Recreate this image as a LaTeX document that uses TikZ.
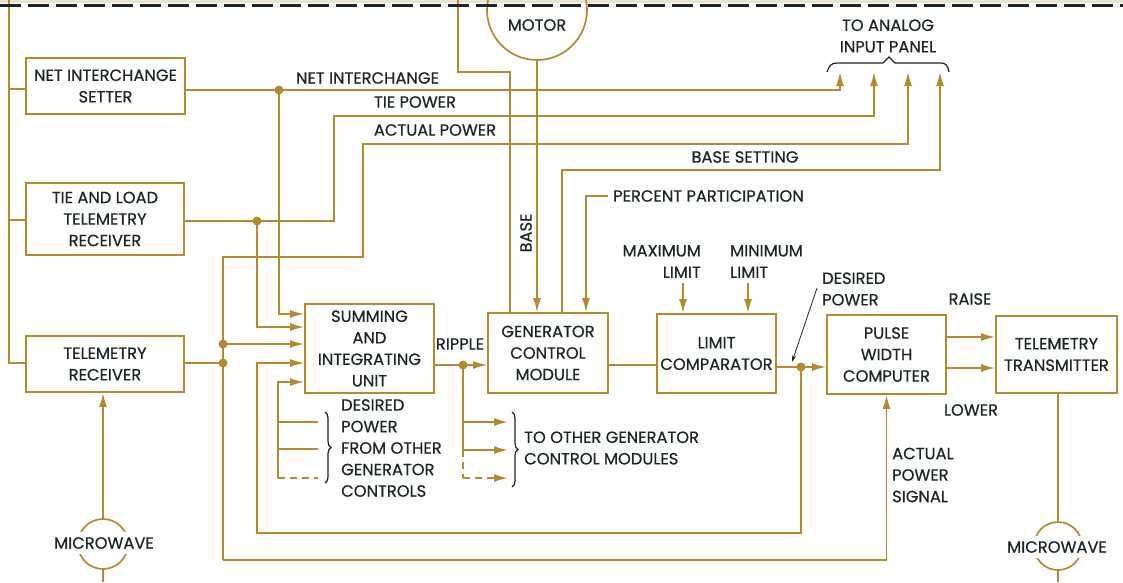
\documentclass[tikz,border=0pt]{standalone}
\usepackage{fontspec}
\newfontfamily\lblfont{Poppins}[FakeBold=0.5]
\usetikzlibrary{arrows.meta,decorations.pathreplacing}
\definecolor{gold}{RGB}{178,138,48}
\definecolor{ink}{RGB}{28,38,38}
\definecolor{band}{RGB}{233,227,212}
\newcommand{\lbf}{\lblfont\fontsize{16.3}{21.5}\selectfont}
\begin{document}
\begin{tikzpicture}[x=1pt,y=-1pt,
  box/.style={draw=gold, line width=1.7pt, fill=white, align=center, font=\lbf, text=ink, inner sep=0pt},
  lbl/.style={font=\lbf, text=ink, inner sep=0pt},
  wire/.style={draw=gold, line width=1.7pt},
  arr/.style={wire, -{Latex[length=14pt,width=8pt]}},
  dot/.style={circle, fill=gold, inner sep=0pt, minimum size=9pt},
  ring/.style={circle, draw=gold, line width=1.7pt, inner sep=0pt},
  brc/.style={draw=ink, line width=1.2pt, decorate, decoration={brace, amplitude=6pt}},
  dsh/.style={dash pattern=on 7pt off 5pt}]
\useasboundingbox (0,0) rectangle (1123,582);
\fill[white] (0,0) rectangle (1123,582);
\fill[band] (0,0) rectangle (1123,3);

% ---------- boxes ----------
\node[box, minimum width=159pt, minimum height=56pt] (nis) at (105.5,86) {NET INTERCHANGE\\SETTER};
\node[box, minimum width=158pt, minimum height=72pt] (tlr) at (105,219) {TIE AND LOAD\\TELEMETRY\\RECEIVER};
\node[box, minimum width=158pt, minimum height=56pt] (tr) at (105,364) {TELEMETRY\\RECEIVER};
\node[box, minimum width=129pt, minimum height=89pt] (siu) at (369.5,348.5) {SUMMING\\AND\\INTEGRATING\\UNIT};
\node[box, minimum width=120pt, minimum height=80pt] (gcm) at (548,353) {GENERATOR\\CONTROL\\MODULE};
\node[box, minimum width=119pt, minimum height=79pt] (lc) at (716.5,353.5) {LIMIT\\COMPARATOR};
\node[box, minimum width=119pt, minimum height=79pt] (pwc) at (886.5,354.5) {PULSE\\WIDTH\\COMPUTER};
\node[box, minimum width=121pt, minimum height=77pt] (tt) at (1056.5,354.5) {TELEMETRY\\TRANSMITTER};
\node[ring, minimum size=100pt] (motor) at (537,10) {};
\node[ring, minimum size=50pt] (mwL) at (103,544) {};
\node[ring, minimum size=48pt] (mwR) at (1058,546) {};

% ---------- coordinates ----------
\coordinate (busT) at (9,0);
\coordinate (bus1) at (9,89);
\coordinate (bus2) at (9,220);
\coordinate (bus3) at (9,363);
\coordinate (dNI) at (279,90);
\coordinate (aNI) at (840,72);
\coordinate (dTL) at (257,221);
\coordinate (tpC) at (334,116);
\coordinate (aTP) at (874,72);
\coordinate (apA) at (223,257);
\coordinate (apB) at (363,144);
\coordinate (aAP) at (908,72);
\coordinate (apBot) at (223,560);
\coordinate (dTR1) at (223,344);
\coordinate (dTR2) at (223,363);
\coordinate (in1) at (279,314);
\coordinate (in2) at (257,327);
\coordinate (in4) at (257,363);
\coordinate (in5) at (278,382);
\coordinate (dDP) at (801,367);
\coordinate (fbA) at (801,533);
\coordinate (fbB) at (257,533);
\coordinate (oc1) at (278,422);
\coordinate (oc2) at (278,449);
\coordinate (oc3) at (278,478);
\coordinate (oc1e) at (318,422);
\coordinate (oc2e) at (318,449);
\coordinate (oc3e) at (318,478);
\coordinate (dR) at (463,365);
\coordinate (rp1) at (463,422);
\coordinate (rp2) at (463,450);
\coordinate (rp3) at (463,478);
\coordinate (rp1e) at (508,422);
\coordinate (rp2e) at (508,450);
\coordinate (rp3e) at (508,478);
\coordinate (gT) at (458,0);
\coordinate (gK) at (458,72);
\coordinate (gK2) at (510,72);
\coordinate (bs1) at (562,170);
\coordinate (aBS) at (940,72);
\coordinate (pp1) at (608,196);
\coordinate (pp2) at (586,196);
\coordinate (gl) at (630,365);
\coordinate (mx) at (683,283);
\coordinate (mn) at (748,283);
\coordinate (r1) at (970,337);
\coordinate (r2) at (970,368);
\coordinate (mwLb) at (103,582);
\coordinate (mwRb) at (1058,582);
\coordinate (dpL) at (817,288);
\coordinate (dpT) at (792,362);

% ---------- wires ----------
\draw[wire] (busT) -- (bus3) -- (bus3 -| tr.west);
\draw[wire] (bus1) -- (bus1 -| nis.west);
\draw[wire] (bus2) -- (bus2 -| tlr.west);
\draw[arr] (dNI -| nis.east) -- (dNI -| aNI) -- (aNI);
\draw[arr] (dTL -| tlr.east) -- (dTL -| tpC) -- (tpC) -- (tpC -| aTP) -- (aTP);
\draw[wire] (dTR2 -| tr.east) -- (dTR2);
\draw[arr] (apBot) -- (apA) -- (apA -| apB) -- (apB) -- (apB -| aAP) -- (aAP);
\draw[arr] (apBot) -- (apBot -| pwc.south) -- (pwc.south);
\draw[arr] (dNI) -- (in1) -- (in1 -| siu.west);
\draw[arr] (dTL) -- (in2) -- (in2 -| siu.west);
\draw[arr] (dTR1) -- (dTR1 -| siu.west);
\draw[arr] (dDP) -- (fbA) -- (fbB) -- (in4) -- (in4 -| siu.west);
\draw[arr] (oc3) -- (in5) -- (in5 -| siu.west);
\draw[wire] (oc1) -- (oc1e);
\draw[wire] (oc2) -- (oc2e);
\draw[wire, dsh] (oc3) -- (oc3e);
\draw[arr] (dR -| siu.east) -- (dR -| gcm.west);
\draw[wire] (dR) -- (rp2);
\draw[wire, dsh] (rp2) -- (rp3);
\draw[arr] (rp1) -- (rp1e);
\draw[arr] (rp2) -- (rp2e);
\draw[arr, dsh] (rp3) -- (rp3e);
\draw[wire] (gT) -- (gK) -- (gK2) -- (gK2 |- gcm.north);
\draw[arr] (motor.south) -- (motor.south |- gcm.north);
\draw[arr] (bs1 |- gcm.north) -- (bs1) -- (bs1 -| aBS) -- (aBS);
\draw[arr] (pp1) -- (pp2) -- (pp2 |- gcm.north);
\draw[wire] (gl -| gcm.east) -- (gl -| lc.west);
\draw[arr] (dDP -| lc.east) -- (dDP -| pwc.west);
\draw[arr] (mx) -- (mx |- lc.north);
\draw[arr] (mn) -- (mn |- lc.north);
\draw[arr] (r1 -| pwc.east) -- (r1 -| tt.west);
\draw[arr] (r2 -| pwc.east) -- (r2 -| tt.west);
\draw[wire] (mwR.north |- tt.south) -- (mwR.north);
\draw[wire] (mwR.south) -- (mwRb);
\draw[arr] (mwL.north) -- (mwL.north |- tr.south);
\draw[wire] (mwL.south) -- (mwLb);

% ---------- junction dots ----------
\node[dot] (jNI) at (dNI) {};
\node[dot] (jTL) at (dTL) {};
\node[dot] (jTR1) at (dTR1) {};
\node[dot] (jTR2) at (dTR2) {};
\node[dot] (jR) at (dR) {};
\node[dot] (jDP) at (dDP) {};

% ---------- braces ----------
\draw[brc] (325,412) -- (325,483);
\draw[brc] (512,412) -- (512,487);
\draw[draw=ink, line width=1.2pt] (827,72) .. controls (829,66) and (831,63) .. (837,63) -- (883,63) -- (889,57) -- (895,63) -- (941,63) .. controls (946,63) and (948,66) .. (949,72);
\draw[draw=ink, line width=0.8pt, -{Stealth[length=7pt,width=4pt]}] (dpL) -- (dpT);

% ---------- labels ----------
\node[lbl] (lNI) at (367.5,78) {NET INTERCHANGE};
\node[lbl] (lTP) at (415,102) {TIE POWER};
\node[lbl] (lAP) at (435,130) {ACTUAL POWER};
\node[lbl] (lBS) at (745,157) {BASE SETTING};
\node[lbl, anchor=west] (lPP) at (613,196) {PERCENT PARTICIPATION};
\node[lbl, rotate=90] (lBase) at (526,233) {BASE};
\node[lbl, align=right, anchor=east] (lMax) at (701,261.5) {MAXIMUM\\LIMIT};
\node[lbl, align=left, anchor=west] (lMin) at (730,261.5) {MINIMUM\\LIMIT};
\node[lbl] (lRip) at (460,344) {RIPPLE};
\node[lbl, align=left, anchor=west] (lDPO) at (341,448) {DESIRED\\POWER\\FROM OTHER\\GENERATOR\\CONTROLS};
\node[lbl, align=left, anchor=west] (lTOG) at (524,448) {TO OTHER GENERATOR\\CONTROL MODULES};
\node[lbl] (lRaise) at (970,299) {RAISE};
\node[lbl] (lLower) at (971,410) {LOWER};
\node[lbl, align=left, anchor=west] (lAPS) at (892,475) {ACTUAL\\POWER\\SIGNAL};
\node[lbl, align=left, anchor=west] (lDP) at (822,289) {DESIRED\\POWER};
\node[lbl, align=center] (lAIP) at (888,36) {TO ANALOG\\INPUT PANEL};
\node[lbl] (lMotor) at (537,25) {MOTOR};
\node[lbl, fill=white, inner xsep=1pt, inner ysep=5pt] (lMWL) at (104,543) {MICROWAVE};
\node[lbl, fill=white, inner xsep=1pt, inner ysep=5pt] (lMWR) at (1057,547) {MICROWAVE};

% ---------- top dashed border ----------
\coordinate (dashL) at (0,5);
\coordinate (dashR) at (1123,5);
\draw[draw=ink, line width=3pt, dash pattern=on 21pt off 7pt] (dashL) -- (dashR);
\end{tikzpicture}
\end{document}
